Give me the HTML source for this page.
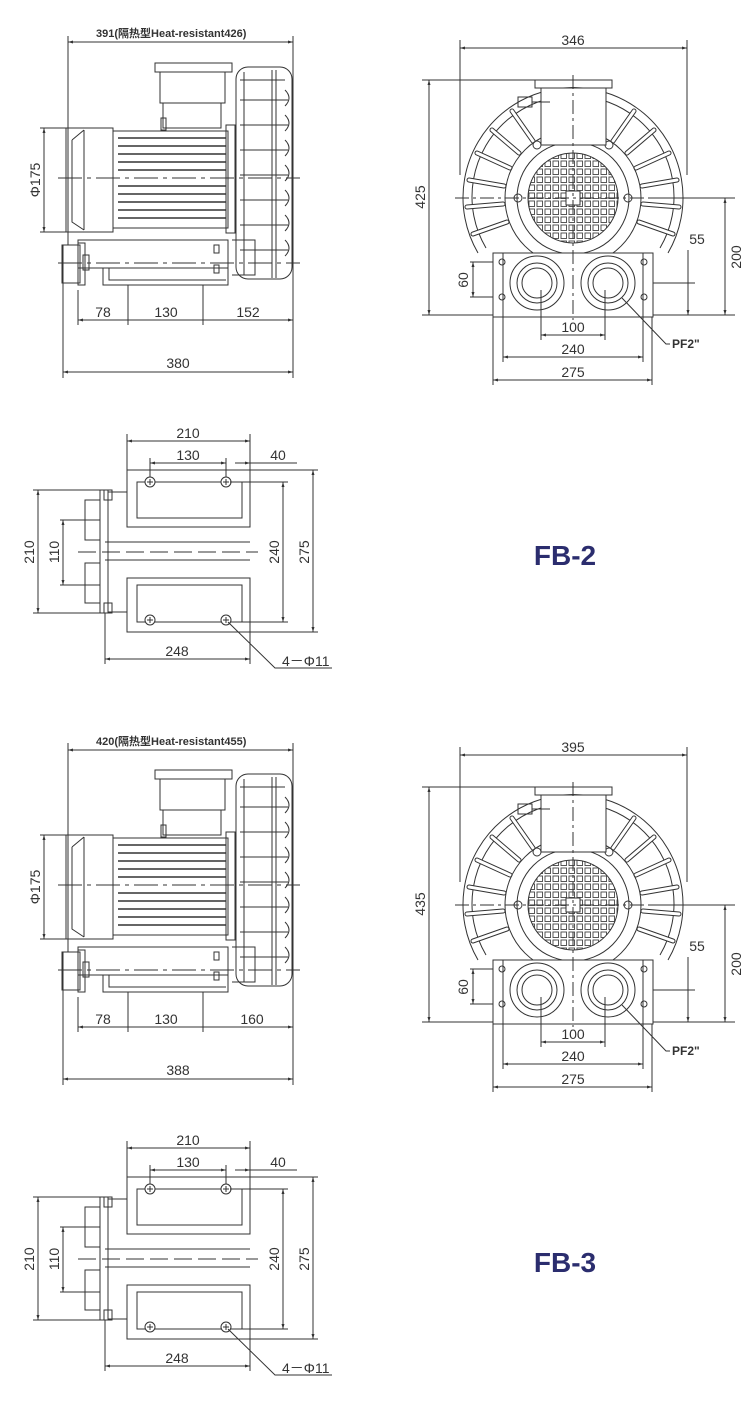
<!DOCTYPE html>
<html><head><meta charset="utf-8"><style>
html,body{margin:0;padding:0;background:#fff;}
svg{display:block;}
text{font-family:"Liberation Sans","Noto Sans CJK SC",sans-serif;fill:#333;}
</style></head><body>
<svg width="750" height="1413" viewBox="0 0 750 1413" xmlns="http://www.w3.org/2000/svg">
<defs>
<marker id="a" viewBox="0 0 10 10" refX="10" refY="5" markerWidth="7" markerHeight="5" orient="auto-start-reverse"><path d="M0,2 L10,5 L0,8 z" fill="#333"/></marker>
<pattern id="g" width="8" height="8" patternUnits="userSpaceOnUse"><rect x="1" y="1" width="5.5" height="5.5" fill="none" stroke="#444" stroke-width="0.9"/></pattern>

<g id="side" fill="none" stroke="#333" stroke-width="1">
 <!-- extension lines -->
 <line x1="68" y1="36" x2="68" y2="245"/><line x1="293" y1="36" x2="293" y2="378"/>
 <line x1="63" y1="245" x2="63" y2="378"/>
 <line x1="78" y1="290" x2="78" y2="325"/><line x1="128" y1="285" x2="128" y2="325"/><line x1="203" y1="285" x2="203" y2="325"/>
 <line x1="40" y1="128" x2="66" y2="128"/><line x1="40" y1="232" x2="66" y2="232"/>
 <line x1="44" y1="128" x2="44" y2="232" marker-start="url(#a)" marker-end="url(#a)"/>
 <!-- fan cover -->
 <rect x="66" y="128" width="47" height="104"/>
 <path d="M72,140 L84,130 M72,140 L72,222 L84,230 M84,130 L84,230"/>
 <!-- motor -->
 <rect x="113" y="131" width="115" height="97"/>
 <path d="M118,138H226M118,146H226M118,154H226M118,162H226M118,170H226M118,186H226M118,194H226M118,202H226M118,210H226M118,218H226" stroke-width="1.6"/>
 <rect x="226" y="125" width="9" height="108"/>
 <!-- terminal box -->
 <rect x="155" y="63" width="77" height="9"/>
 <rect x="160" y="72" width="65" height="31"/>
 <rect x="163" y="103" width="58" height="25"/>
 <rect x="161" y="118" width="5" height="12"/>
 <!-- housing -->
 <rect x="236" y="67" width="56" height="212" rx="12"/>
 <path d="M244,72V275M272,70V278M276,70V278M240,80H285M240,100H288M240,125H288M240,150H288M240,175H288M240,200H288M240,225H288M240,250H288"/>
 <path d="M285,90q8,8 0,16M285,115q8,8 0,16M285,140q8,8 0,16M285,165q8,8 0,16M285,190q8,8 0,16M285,215q8,8 0,16M285,240q8,8 0,16"/>
 <!-- base -->
 <rect x="78" y="240" width="150" height="28"/>
 <path d="M103,268V285H228V268M109,268V280H226"/>
 <rect x="62" y="245" width="18" height="38"/><rect x="78" y="243" width="7" height="42"/>
 <rect x="83" y="255" width="6" height="15"/>
 <path d="M228,240V278M232,240H255V275H232"/>
 <rect x="214" y="245" width="5" height="8"/><rect x="214" y="265" width="5" height="8"/>
 <!-- centre lines -->
 <line x1="58" y1="178" x2="300" y2="178" stroke-dasharray="24,5,4,5"/>
 <line x1="58" y1="263" x2="300" y2="263" stroke-dasharray="24,5,4,5"/>
</g>

<g id="front" fill="none" stroke="#333" stroke-width="1">
 <line x1="460" y1="40" x2="460" y2="175"/><line x1="687" y1="40" x2="687" y2="175"/>
 <line x1="422" y1="80" x2="540" y2="80"/><line x1="422" y1="315" x2="735" y2="315"/>
 <line x1="429" y1="80" x2="429" y2="315" marker-start="url(#a)" marker-end="url(#a)"/>
 <line x1="650" y1="198" x2="735" y2="198"/><line x1="645" y1="283" x2="695" y2="283"/>
 <line x1="725" y1="198" x2="725" y2="315" marker-start="url(#a)" marker-end="url(#a)"/>
 <line x1="688" y1="250" x2="688" y2="315" marker-end="url(#a)"/>
 <line x1="470" y1="262" x2="500" y2="262"/><line x1="470" y1="297" x2="500" y2="297"/>
 <line x1="473" y1="262" x2="473" y2="297" marker-start="url(#a)" marker-end="url(#a)"/>
 <!-- housing -->
 <path d="M478,253 A110,110 0 1 1 668,253"/>
 <path d="M486,248 A101,101 0 1 1 660,248"/>
 <path d="M507,222L473,234M503,204L467,207M504,186L469,180M510,168L477,153M519,153L492,130M533,141L512,111M639,222L673,234M643,204L679,207M642,186L677,180M636,168L669,153M627,153L654,130M613,141L634,111" stroke-width="5" stroke-linecap="round"/>
 <path d="M507,222L473,234M503,204L467,207M504,186L469,180M510,168L477,153M519,153L492,130M533,141L512,111M639,222L673,234M643,204L679,207M642,186L677,180M636,168L669,153M627,153L654,130M613,141L634,111" stroke="#fff" stroke-width="3" stroke-linecap="round"/>
 <circle cx="573" cy="198" r="68"/>
 <circle cx="573" cy="198" r="56"/>
 <circle cx="573" cy="198" r="45" fill="url(#g)"/>
 <rect x="566" y="191" width="14" height="14" fill="#fff"/>
 <circle cx="518" cy="198" r="4"/><circle cx="628" cy="198" r="4"/>
 <circle cx="537" cy="145" r="4"/><circle cx="609" cy="145" r="4"/>
 <!-- terminal box -->
 <rect x="535" y="80" width="77" height="8"/>
 <rect x="541" y="88" width="65" height="57" fill="#fff"/>
 <rect x="518" y="97" width="14" height="10"/><line x1="532" y1="102" x2="550" y2="102"/>
 <!-- base -->
 <rect x="493" y="253" width="160" height="64" fill="#fff"/>
 <rect x="503" y="253" width="140" height="64"/>
 <circle cx="537" cy="283" r="27" fill="#fff"/><circle cx="537" cy="283" r="20"/><circle cx="537" cy="283" r="15"/>
 <circle cx="608" cy="283" r="27" fill="#fff"/><circle cx="608" cy="283" r="20"/><circle cx="608" cy="283" r="15"/>
 <circle cx="502" cy="262" r="3"/><circle cx="644" cy="262" r="3"/><circle cx="502" cy="297" r="3"/><circle cx="644" cy="297" r="3"/>
 <line x1="573" y1="75" x2="573" y2="320" stroke-dasharray="14,4,3,4"/>
 <line x1="455" y1="198" x2="695" y2="198" stroke-dasharray="14,4,3,4"/>
 <!-- dims -->
 <line x1="541" y1="290" x2="541" y2="340"/><line x1="605" y1="290" x2="605" y2="340"/>
 <line x1="503" y1="300" x2="503" y2="362"/><line x1="643" y1="300" x2="643" y2="362"/>
 <line x1="493" y1="317" x2="493" y2="385"/><line x1="652" y1="317" x2="652" y2="385"/>
 <line x1="541" y1="335" x2="605" y2="335" marker-start="url(#a)" marker-end="url(#a)"/>
 <line x1="503" y1="357" x2="643" y2="357" marker-start="url(#a)" marker-end="url(#a)"/>
 <line x1="493" y1="380" x2="652" y2="380" marker-start="url(#a)" marker-end="url(#a)"/>
 <line x1="460" y1="48" x2="687" y2="48" marker-start="url(#a)" marker-end="url(#a)"/>
 <path d="M622,298 L666,344 H670" />
</g>

<g id="plan" fill="none" stroke="#333" stroke-width="1">
 <line x1="127" y1="434" x2="127" y2="470"/><line x1="250" y1="434" x2="250" y2="470"/>
 <line x1="127" y1="441" x2="250" y2="441" marker-start="url(#a)" marker-end="url(#a)"/>
 <line x1="150" y1="458" x2="150" y2="482"/><line x1="226" y1="458" x2="226" y2="482"/>
 <line x1="150" y1="463" x2="226" y2="463" marker-start="url(#a)" marker-end="url(#a)"/>
 <line x1="235" y1="463" x2="250" y2="463" marker-end="url(#a)"/><line x1="250" y1="463" x2="297" y2="463"/>
 <rect x="127" y="470" width="123" height="57"/>
 <rect x="137" y="482" width="105" height="36"/>
 <rect x="127" y="578" width="123" height="54"/>
 <rect x="137" y="585" width="105" height="37"/>
 <line x1="105" y1="542" x2="250" y2="542"/><line x1="105" y1="560" x2="250" y2="560"/>
 <line x1="78" y1="552" x2="258" y2="552" stroke-dasharray="18,6"/>
 <path d="M108,492H127V527M108,612H127V578"/>
 <circle cx="150" cy="482" r="5" fill="#fff"/><circle cx="226" cy="482" r="5" fill="#fff"/>
 <circle cx="150" cy="620" r="5" fill="#fff"/><circle cx="226" cy="620" r="5" fill="#fff"/>
 <path d="M147,482h6M150,479v6M223,482h6M226,479v6M147,620h6M150,617v6M223,620h6M226,617v6"/>
 <rect x="100" y="490" width="8" height="123"/><rect x="104" y="490" width="8" height="10"/><rect x="104" y="603" width="8" height="10"/>
 <rect x="85" y="500" width="15" height="40"/><rect x="85" y="563" width="15" height="40"/>
 <line x1="33" y1="490" x2="100" y2="490"/><line x1="33" y1="613" x2="100" y2="613"/>
 <line x1="38" y1="490" x2="38" y2="613" marker-start="url(#a)" marker-end="url(#a)"/>
 <line x1="60" y1="520" x2="100" y2="520"/><line x1="60" y1="585" x2="100" y2="585"/>
 <line x1="63" y1="520" x2="63" y2="585" marker-start="url(#a)" marker-end="url(#a)"/>
 <line x1="230" y1="482" x2="288" y2="482"/><line x1="230" y1="622" x2="288" y2="622"/>
 <line x1="283" y1="482" x2="283" y2="622" marker-start="url(#a)" marker-end="url(#a)"/>
 <line x1="250" y1="470" x2="318" y2="470"/><line x1="250" y1="632" x2="318" y2="632"/>
 <line x1="313" y1="470" x2="313" y2="632" marker-start="url(#a)" marker-end="url(#a)"/>
 <line x1="105" y1="613" x2="105" y2="664"/><line x1="250" y1="632" x2="250" y2="664"/>
 <line x1="105" y1="659" x2="250" y2="659" marker-start="url(#a)" marker-end="url(#a)"/>
 <path d="M228,622 L275,668 H332"/>
</g>
</defs>

<!-- FB-2 -->
<use href="#side"/><use href="#front"/><use href="#plan"/>
<line x1="68" y1="42" x2="293" y2="42" stroke="#333" marker-start="url(#a)" marker-end="url(#a)"/>
<line x1="78" y1="320" x2="293" y2="320" stroke="#333" marker-start="url(#a)" marker-end="url(#a)"/>
<line x1="63" y1="372" x2="293" y2="372" stroke="#333" marker-start="url(#a)" marker-end="url(#a)"/>
<g font-size="14">
<text x="96" y="37" font-size="11" font-weight="bold">391(隔热型Heat-resistant426)</text>
<text x="40" y="180" transform="rotate(-90 40 180)" text-anchor="middle">Φ175</text>
<text x="103" y="317" text-anchor="middle">78</text><text x="166" y="317" text-anchor="middle">130</text><text x="248" y="317" text-anchor="middle">152</text>
<text x="178" y="368" text-anchor="middle">380</text>
<text x="573" y="45" text-anchor="middle">346</text>
<text x="425" y="197" transform="rotate(-90 425 197)" text-anchor="middle">425</text>
<text x="741" y="257" transform="rotate(-90 741 257)" text-anchor="middle">200</text>
<text x="697" y="244" text-anchor="middle">55</text>
<text x="468" y="280" transform="rotate(-90 468 280)" text-anchor="middle">60</text>
<text x="573" y="332" text-anchor="middle">100</text><text x="573" y="354" text-anchor="middle">240</text><text x="573" y="377" text-anchor="middle">275</text>
<text x="672" y="348" font-family="Liberation Serif" font-weight="bold" font-size="12">PF2"</text>
<text x="188" y="438" text-anchor="middle">210</text><text x="188" y="460" text-anchor="middle">130</text><text x="278" y="460" text-anchor="middle">40</text>
<text x="34" y="552" transform="rotate(-90 34 552)" text-anchor="middle">210</text>
<text x="59" y="552" transform="rotate(-90 59 552)" text-anchor="middle">110</text>
<text x="279" y="552" transform="rotate(-90 279 552)" text-anchor="middle">240</text>
<text x="309" y="552" transform="rotate(-90 309 552)" text-anchor="middle">275</text>
<text x="177" y="656" text-anchor="middle">248</text>
<text x="282" y="666">4－Φ11</text>
</g>
<text x="565" y="565" text-anchor="middle" font-size="28" font-weight="bold" style="fill:#2b2d6e">FB-2</text>

<!-- FB-3 -->
<g transform="translate(0,707)"><use href="#side"/><use href="#plan"/></g>
<g transform="translate(0,707)"><use href="#front"/></g>
<line x1="68" y1="750" x2="293" y2="750" stroke="#333" marker-start="url(#a)" marker-end="url(#a)"/>
<line x1="78" y1="1027" x2="293" y2="1027" stroke="#333" marker-start="url(#a)" marker-end="url(#a)"/>
<line x1="63" y1="1079" x2="293" y2="1079" stroke="#333" marker-start="url(#a)" marker-end="url(#a)"/>
<g font-size="14">
<text x="96" y="745" font-size="11" font-weight="bold">420(隔热型Heat-resistant455)</text>
<text x="40" y="887" transform="rotate(-90 40 887)" text-anchor="middle">Φ175</text>
<text x="103" y="1024" text-anchor="middle">78</text><text x="166" y="1024" text-anchor="middle">130</text><text x="252" y="1024" text-anchor="middle">160</text>
<text x="178" y="1075" text-anchor="middle">388</text>
<text x="573" y="752" text-anchor="middle">395</text>
<text x="425" y="904" transform="rotate(-90 425 904)" text-anchor="middle">435</text>
<text x="741" y="964" transform="rotate(-90 741 964)" text-anchor="middle">200</text>
<text x="697" y="951" text-anchor="middle">55</text>
<text x="468" y="987" transform="rotate(-90 468 987)" text-anchor="middle">60</text>
<text x="573" y="1039" text-anchor="middle">100</text><text x="573" y="1061" text-anchor="middle">240</text><text x="573" y="1084" text-anchor="middle">275</text>
<text x="672" y="1055" font-family="Liberation Serif" font-weight="bold" font-size="12">PF2"</text>
<text x="188" y="1145" text-anchor="middle">210</text><text x="188" y="1167" text-anchor="middle">130</text><text x="278" y="1167" text-anchor="middle">40</text>
<text x="34" y="1259" transform="rotate(-90 34 1259)" text-anchor="middle">210</text>
<text x="59" y="1259" transform="rotate(-90 59 1259)" text-anchor="middle">110</text>
<text x="279" y="1259" transform="rotate(-90 279 1259)" text-anchor="middle">240</text>
<text x="309" y="1259" transform="rotate(-90 309 1259)" text-anchor="middle">275</text>
<text x="177" y="1363" text-anchor="middle">248</text>
<text x="282" y="1373">4－Φ11</text>
</g>
<text x="565" y="1272" text-anchor="middle" font-size="28" font-weight="bold" style="fill:#2b2d6e">FB-3</text>
</svg>
</body></html>
